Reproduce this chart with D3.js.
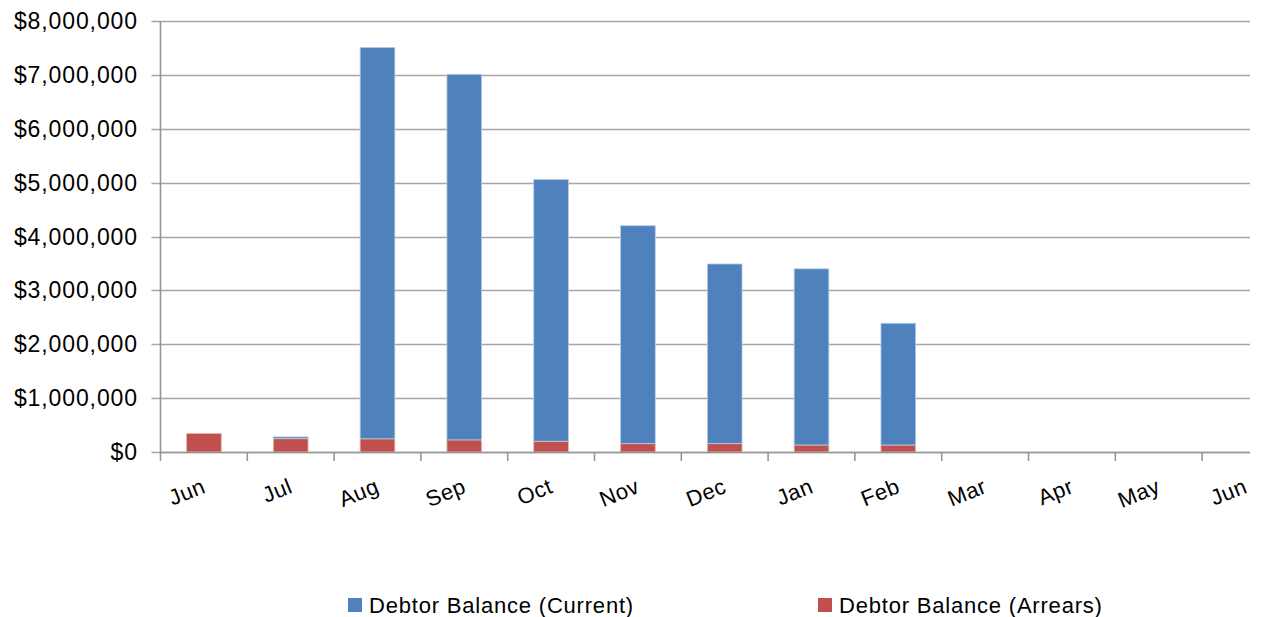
<!DOCTYPE html>
<html lang="en">
  <head>
    <meta charset="utf-8">
    <script src="https://cdn.jsdelivr.net/npm/d3@7"></script>
    <style>
      body { margin: 0; background: #fff; }
      text { font-family: "Liberation Sans", Arial, sans-serif; fill: #000; }
    </style>
  </head>
  <body>
    <svg class="chart"></svg>
  </body>
  <script type="text/javascript">
    // months along the bottom (Jun appears twice)
    var months = ['Jun','Jul','Aug','Sep','Oct','Nov','Dec','Jan','Feb','Mar','Apr','May','Jun'];
    // debtor balance, current part (stacked on top)
    var current = [0, 33000, 7265000, 6785000, 4860000, 4045000, 3335000, 3270000, 2260000, 0, 0, 0, 0];
    // debtor balance, arrears part (bottom)
    var arrears = [345000, 247000, 245000, 225000, 200000, 155000, 155000, 130000, 130000, 0, 0, 0, 0];
    var yTicks = [0, 1000000, 2000000, 3000000, 4000000, 5000000, 6000000, 7000000, 8000000];
    var seriesNames = ['Debtor Balance (Current)', 'Debtor Balance (Arrears)'];
    var colors = {current: '#4F81BD', arrears: '#C0504D'};

    var screenWidth = 1262, screenHeight = 617;
    var svg = d3.select('.chart')
                .attr('width', screenWidth)
                .attr('height', screenHeight);

    var plotLeft = 160.5, plotTop = 21, plotBottom = 452, plotRight = 1250;
    var step = 86.8;

    var rows = months.map(function(m, i){
      return {key: i, month: m, arrears: arrears[i], current: current[i]};
    });

    var xScale = d3.scaleBand()
                   .domain(d3.range(months.length))
                   .range([plotLeft, plotLeft + step * months.length])
                   .paddingInner(0.6)
                   .paddingOuter(0.3);

    var yScale = d3.scaleLinear()
                   .domain([0, 8000000])
                   .range([plotBottom, plotTop]);

    // gridlines
    svg.append('g').classed('grid', true)
       .selectAll('line')
       .data(yTicks)
       .enter()
       .append('line')
       .attr('x1', plotLeft - 9)
       .attr('x2', plotRight)
       .attr('y1', function(d){ return Math.round(yScale(d)) + 0.5; })
       .attr('y2', function(d){ return Math.round(yScale(d)) + 0.5; })
       .attr('stroke', '#A6A6A6')
       .attr('stroke-width', 1.6);

    // y labels
    svg.append('g').classed('yLabels', true)
       .selectAll('text')
       .data(yTicks)
       .enter()
       .append('text')
       .attr('x', 138)
       .attr('y', function(d){ return yScale(d); })
       .attr('dy', '0.35em')
       .attr('text-anchor', 'end')
       .style('font-size', '23px')
       .style('letter-spacing', '0.9px')
       .text(function(d){ return '$' + d3.format(',')(d); });

    // stacked bars
    var stack = d3.stack().keys(['arrears', 'current']);
    var layers = stack(rows);

    var groups = svg.append('g').classed('bars', true)
                    .selectAll('g')
                    .data(layers)
                    .enter()
                    .append('g')
                    .attr('fill', function(d){ return colors[d.key]; })
                    .attr('stroke', function(d){ return d.key == 'current' ? '#B9CDE5' : '#E6B9B8'; });

    groups.selectAll('rect')
          .data(function(d){ return d.filter(function(p){ return p[1] > p[0]; }); })
          .enter()
          .append('rect')
          .attr('x', function(d){ return xScale(d.data.key); })
          .attr('width', xScale.bandwidth())
          .attr('y', function(d){ return yScale(d[1]); })
          .attr('height', function(d){ return yScale(d[0]) - yScale(d[1]); })
          .attr('stroke-width', 0.8);

    // y axis line
    svg.append('line')
       .attr('x1', plotLeft).attr('x2', plotLeft)
       .attr('y1', plotTop).attr('y2', plotBottom)
       .attr('stroke', '#969696').attr('stroke-width', 1.6);

    // x axis line + ticks
    svg.append('line')
       .attr('x1', plotLeft).attr('x2', plotRight)
       .attr('y1', plotBottom + 0.5).attr('y2', plotBottom + 0.5)
       .attr('stroke', '#969696').attr('stroke-width', 1.6);

    svg.append('g').classed('xTicks', true)
       .selectAll('line')
       .data(d3.range(months.length))
       .enter()
       .append('line')
       .attr('x1', function(d){ return xScale(d) - xScale.step() * xScale.paddingInner() / 2; })
       .attr('x2', function(d){ return xScale(d) - xScale.step() * xScale.paddingInner() / 2; })
       .attr('y1', plotBottom)
       .attr('y2', plotBottom + 9)
       .attr('stroke', '#969696').attr('stroke-width', 1.6);

    // x labels, rotated
    svg.append('g').classed('xLabels', true)
       .selectAll('text')
       .data(rows)
       .enter()
       .append('text')
       .attr('transform', function(d){
         var cx = xScale(d.key) + xScale.bandwidth() / 2 + 3;
         return 'translate(' + cx + ',' + (plotBottom + 40) + ') rotate(-22)';
       })
       .attr('text-anchor', 'end')
       .style('font-size', '22px')
       .style('letter-spacing', '0.5px')
       .text(function(d){ return d.month; });

    // legend
    var legendItems = [
      {name: seriesNames[0], color: colors.current, x: 348},
      {name: seriesNames[1], color: colors.arrears, x: 818}
    ];
    var legend = svg.append('g').classed('legend', true)
                    .selectAll('g')
                    .data(legendItems)
                    .enter()
                    .append('g')
                    .attr('transform', function(d){ return 'translate(' + d.x + ',605)'; });
    legend.append('rect')
          .attr('x', 0).attr('y', -7)
          .attr('width', 14).attr('height', 14)
          .attr('fill', function(d){ return d.color; });
    legend.append('text')
          .attr('x', 21).attr('y', 0)
          .attr('dy', '0.35em')
          .style('font-size', '22px')
          .style('letter-spacing', '0.8px')
          .text(function(d){ return d.name; });
  </script>
</html>
